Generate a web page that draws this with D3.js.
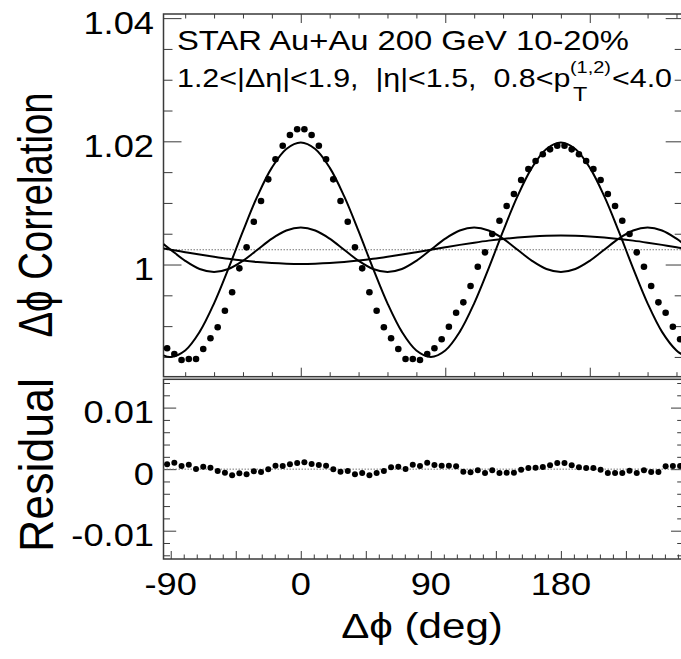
<!DOCTYPE html>
<html>
<head>
<meta charset="utf-8">
<script src="https://cdn.jsdelivr.net/npm/d3@7"></script>
<style>
body { margin: 0; background: #fff; }
text { font-family: "Liberation Sans", Arial, Helvetica, sans-serif; fill: #000; white-space: pre; }
</style>
</head>
<body>
<div id="vizDiv"></div>
<script>
var width = 681;
var height = 659;

// bin centres of the measured correlation (deg)
var binPhi = [-92.5, -87.5, -82.5, -77.5, -72.5, -67.5, -62.5, -57.5, -52.5, -47.5, -42.5, -37.5,
    -32.5, -27.5, -22.5, -17.5, -12.5, -7.5, -2.5, 2.5, 7.5, 12.5, 17.5, 22.5,
    27.5, 32.5, 37.5, 42.5, 47.5, 52.5, 57.5, 62.5, 67.5, 72.5, 77.5, 82.5,
    87.5, 92.5, 97.5, 102.5, 107.5, 112.5, 117.5, 122.5, 127.5, 132.5, 137.5, 142.5,
    147.5, 152.5, 157.5, 162.5, 167.5, 172.5, 177.5, 182.5, 187.5, 192.5, 197.5, 202.5,
    207.5, 212.5, 217.5, 222.5, 227.5, 232.5, 237.5, 242.5, 247.5, 252.5, 257.5, 262.5];

var corrData = [0.98640, 0.98547, 0.98450, 0.98466, 0.98466, 0.98628, 0.98802, 0.98981, 0.99250, 0.99549, 0.99938, 1.00279,
    1.00695, 1.01031, 1.01383, 1.01708, 1.01929, 1.02102, 1.02195, 1.02195, 1.02102, 1.01929, 1.01708, 1.01383,
    1.01031, 1.00695, 1.00279, 0.99938, 0.99549, 0.99250, 0.98981, 0.98802, 0.98628, 0.98466, 0.98466, 0.98450,
    0.98547, 0.98640, 0.98786, 0.98990, 0.99218, 0.99386, 0.99651, 0.99964, 1.00198, 1.00495, 1.00711, 1.00950,
    1.01144, 1.01372, 1.01550, 1.01680, 1.01789, 1.01870, 1.01929, 1.01929, 1.01870, 1.01789, 1.01680, 1.01550,
    1.01372, 1.01144, 1.00950, 1.00711, 1.00495, 1.00198, 0.99964, 0.99651, 0.99386, 0.99218, 0.98990, 0.98786];

var residData = [0.00080, 0.00106, 0.00052, 0.00073, 0.00003, 0.00041, 0.00024, -0.00029, -0.00057, -0.00099, -0.00067, -0.00083,
    -0.00034, -0.00046, 0.00000, 0.00057, 0.00052, 0.00080, 0.00101, 0.00112, 0.00085, 0.00068, 0.00057, 0.00000,
    -0.00041, -0.00029, -0.00083, -0.00062, -0.00099, -0.00062, -0.00029, 0.00031, 0.00041, 0.00003, 0.00073, 0.00052,
    0.00106, 0.00068, 0.00057, 0.00057, 0.00047, -0.00041, -0.00050, -0.00018, -0.00062, -0.00018, -0.00062, -0.00057,
    -0.00057, -0.00008, 0.00020, 0.00024, 0.00036, 0.00063, 0.00101, 0.00101, 0.00063, 0.00031, 0.00020, 0.00020,
    -0.00008, -0.00062, -0.00062, -0.00062, -0.00024, -0.00062, -0.00018, -0.00046, -0.00046, 0.00047, 0.00052, 0.00052];

// fit components
var fitPhi = [-95, -90, -80, -70, -60, -50, -40, -30, -20, -10, 0, 10, 20, 30, 40, 50, 60, 70, 80, 90,
    100, 110, 120, 130, 140, 150, 160, 170, 180, 190, 200, 210, 220, 230, 240, 250, 260, 265];
var fitQuad = [0.98526, 0.98500, 0.98605, 0.98907, 0.99370, 0.99938, 1.00542, 1.01110, 1.01573, 1.01875, 1.01980, 1.01875,
    1.01573, 1.01110, 1.00542, 0.99938, 0.99370, 0.98907, 0.98605, 0.98500, 0.98605, 0.98907, 0.99370, 0.99938,
    1.00542, 1.01110, 1.01573, 1.01875, 1.01980, 1.01875, 1.01573, 1.01110, 1.00542, 0.99938, 0.99370, 0.98907, 0.98605, 0.98526];
var fitTri = [1.00333, 1.00240, 1.00060, 0.99928, 0.99880, 0.99928, 1.00060, 1.00240, 1.00420, 1.00552, 1.00600, 1.00552,
    1.00420, 1.00240, 1.00060, 0.99928, 0.99880, 0.99928, 1.00060, 1.00240, 1.00420, 1.00552, 1.00600, 1.00552,
    1.00420, 1.00240, 1.00060, 0.99928, 0.99880, 0.99928, 1.00060, 1.00240, 1.00420, 1.00552, 1.00600, 1.00552, 1.00420, 1.00333];
var fitDip = [1.00260, 1.00240, 1.00200, 1.00161, 1.00125, 1.00092, 1.00064, 1.00041, 1.00024, 1.00014, 1.00010, 1.00014,
    1.00024, 1.00041, 1.00064, 1.00092, 1.00125, 1.00161, 1.00200, 1.00240, 1.00280, 1.00319, 1.00355, 1.00388,
    1.00416, 1.00439, 1.00456, 1.00467, 1.00470, 1.00467, 1.00456, 1.00439, 1.00416, 1.00388, 1.00355, 1.00319, 1.00280, 1.00260];
var baseLevel = 1.0024;

// ticks
var topYMajor = [1.00, 1.02, 1.04];
var topYMinor = [0.985, 0.99, 0.995, 1.005, 1.01, 1.015, 1.025, 1.03, 1.035];
var topXMajor = [0, 100, 200];
var topXMinor = [-80, -60, -40, -20, 20, 40, 60, 80, 120, 140, 160, 180, 220, 240, 260];
var resYMajor = [-0.01, 0, 0.01];
var resYMinor = [-0.014, -0.012, -0.008, -0.006, -0.004, -0.002, 0.002, 0.004, 0.006, 0.008, 0.012, 0.014];
var resXMajor = [-90, -45, 0, 45, 90, 135, 180, 225];
var resXMinor = [-81, -72, -63, -54, -36, -27, -18, -9, 9, 18, 27, 36, 54, 63, 72, 81, 99, 108, 117, 126,
    144, 153, 162, 171, 189, 198, 207, 216, 234, 243, 252, 261];
var xLabels = [-90, 0, 90, 180];
var topYLabels = ["1", "1.02", "1.04"];
var resYLabels = ["-0.01", "0", "0.01"];

var xLeft = 163.5, xRight = 683.7;
var topTop = 14, topBottom = 376.7;
var resTop = 379.3, resBottom = 559;
var stretch = 1.17;
var frameColor = "#3a3a3a";

var x = d3.scaleLinear().domain([-95, 265]).range([xLeft, xRight]);
var yTop = d3.scaleLinear().domain([0.98179, 1.04067]).range([topBottom, topTop]);
var yRes = d3.scaleLinear().domain([-0.0146, 0.0146]).range([resBottom, resTop]);

var svg = d3.select("#vizDiv")
    .append("svg")
    .attr("width", width)
    .attr("height", height);

var defs = svg.append("defs");
defs.append("clipPath").attr("id", "clipTop")
    .append("rect")
    .attr("x", xLeft).attr("y", topTop)
    .attr("width", xRight - xLeft).attr("height", topBottom - topTop);

function label(xPos, yPos, str, size, anchor) {
    return svg.append("text")
        .attr("transform", "translate(" + xPos + "," + yPos + ") scale(" + stretch + ",1)")
        .attr("font-size", size)
        .attr("text-anchor", anchor)
        .text(str);
}

function tickSet(axis, pos, len) {
    var g = svg.append("g")
        .attr("transform", pos)
        .call(axis.tickSize(len).tickFormat(""));
    g.select(".domain").remove();
    g.selectAll("line").attr("stroke", frameColor).attr("stroke-width", 1);
}

function panelTicks(yScale, top, bottom, yMaj, yMin, yMajLen, yMinLen, xMaj, xMin, xMajLen, xMinLen, topSide) {
    tickSet(d3.axisLeft(yScale).tickValues(yMaj), "translate(" + xLeft + ",0)", -yMajLen);
    tickSet(d3.axisLeft(yScale).tickValues(yMin), "translate(" + xLeft + ",0)", -yMinLen);
    tickSet(d3.axisRight(yScale).tickValues(yMaj), "translate(" + xRight + ",0)", -yMajLen);
    tickSet(d3.axisRight(yScale).tickValues(yMin), "translate(" + xRight + ",0)", -yMinLen);
    tickSet(d3.axisBottom(x).tickValues(xMaj), "translate(0," + bottom + ")", -xMajLen);
    tickSet(d3.axisBottom(x).tickValues(xMin), "translate(0," + bottom + ")", -xMinLen);
    if (topSide) {
        tickSet(d3.axisTop(x).tickValues(xMaj), "translate(0," + top + ")", -xMajLen);
        tickSet(d3.axisTop(x).tickValues(xMin), "translate(0," + top + ")", -xMinLen);
    }
    svg.append("rect")
        .attr("x", xLeft).attr("y", top)
        .attr("width", xRight - xLeft).attr("height", bottom - top)
        .attr("fill", "none")
        .attr("stroke", frameColor)
        .attr("stroke-width", 1.5);
}

panelTicks(yTop, topTop, topBottom, topYMajor, topYMinor, 18, 9, topXMajor, topXMinor, 9, 4.5, true);
panelTicks(yRes, resTop, resBottom, resYMajor, resYMinor, 12.7, 6.5, resXMajor, resXMinor, 8, 4.5, false);

// reference levels
svg.append("line")
    .attr("x1", xLeft).attr("x2", xRight)
    .attr("y1", yTop(baseLevel)).attr("y2", yTop(baseLevel))
    .attr("stroke", "#777").attr("stroke-width", 1)
    .attr("stroke-dasharray", "1.5,1.5");
svg.append("line")
    .attr("x1", xLeft).attr("x2", xRight)
    .attr("y1", yRes(0)).attr("y2", yRes(0))
    .attr("stroke", "#777").attr("stroke-width", 1)
    .attr("stroke-dasharray", "1.5,1.5");

// fit components
var fitLine = d3.line()
    .x(function(d) { return x(d[0]); })
    .y(function(d) { return yTop(d[1]); })
    .curve(d3.curveCatmullRom.alpha(0.5));

[fitQuad, fitTri, fitDip].forEach(function(vals) {
    svg.append("path")
        .attr("clip-path", "url(#clipTop)")
        .attr("d", fitLine(fitPhi.map(function(p, i) { return [p, vals[i]]; })))
        .attr("fill", "none")
        .attr("stroke", "#000")
        .attr("stroke-width", 2);
});

svg.append("g").selectAll("circle")
    .data(binPhi)
    .enter().append("circle")
    .attr("cx", function(d) { return x(d); })
    .attr("cy", function(d, i) { return yTop(corrData[i]); })
    .attr("r", 3.3)
    .attr("fill", "#000");

svg.append("g").selectAll("circle")
    .data(binPhi)
    .enter().append("circle")
    .attr("cx", function(d) { return x(d); })
    .attr("cy", function(d, i) { return yRes(residData[i]); })
    .attr("r", 3)
    .attr("fill", "#000");

// tick labels
topYMajor.forEach(function(v, i) {
    label(154, yTop(v) + 15.5, topYLabels[i], 31, "end");
});
resYMajor.forEach(function(v, i) {
    label(154, yRes(v) + 15.5, resYLabels[i], 31, "end");
});
xLabels.forEach(function(v) {
    label(x(v), 595, String(v), 31, "middle");
});

// axis titles
label(422, 638, "\u0394\u03d5 (deg)", 36, "middle");
svg.append("text")
    .attr("transform", "translate(52,215) scale(" + stretch + ",1) rotate(-90)")
    .attr("font-size", 41)
    .attr("text-anchor", "middle")
    .attr("textLength", 245)
    .attr("lengthAdjust", "spacingAndGlyphs")
    .text("\u0394\u03d5 Correlation");
svg.append("text")
    .attr("transform", "translate(53,465) scale(" + stretch + ",1) rotate(-90)")
    .attr("font-size", 41)
    .attr("text-anchor", "middle")
    .attr("textLength", 174)
    .attr("lengthAdjust", "spacingAndGlyphs")
    .text("Residual");

// plot caption
label(177, 50, "STAR Au+Au 200 GeV 10-20%", 28, "start");
label(177, 87, "1.2<|\u0394\u03b7|<1.9,  |\u03b7|<1.5,  0.8<p", 26, "start");
label(570, 73, "(1,2)", 17, "start");
label(573, 101, "T", 20, "start");
label(612, 87, "<4.0", 26, "start");
</script>
</body>
</html>
